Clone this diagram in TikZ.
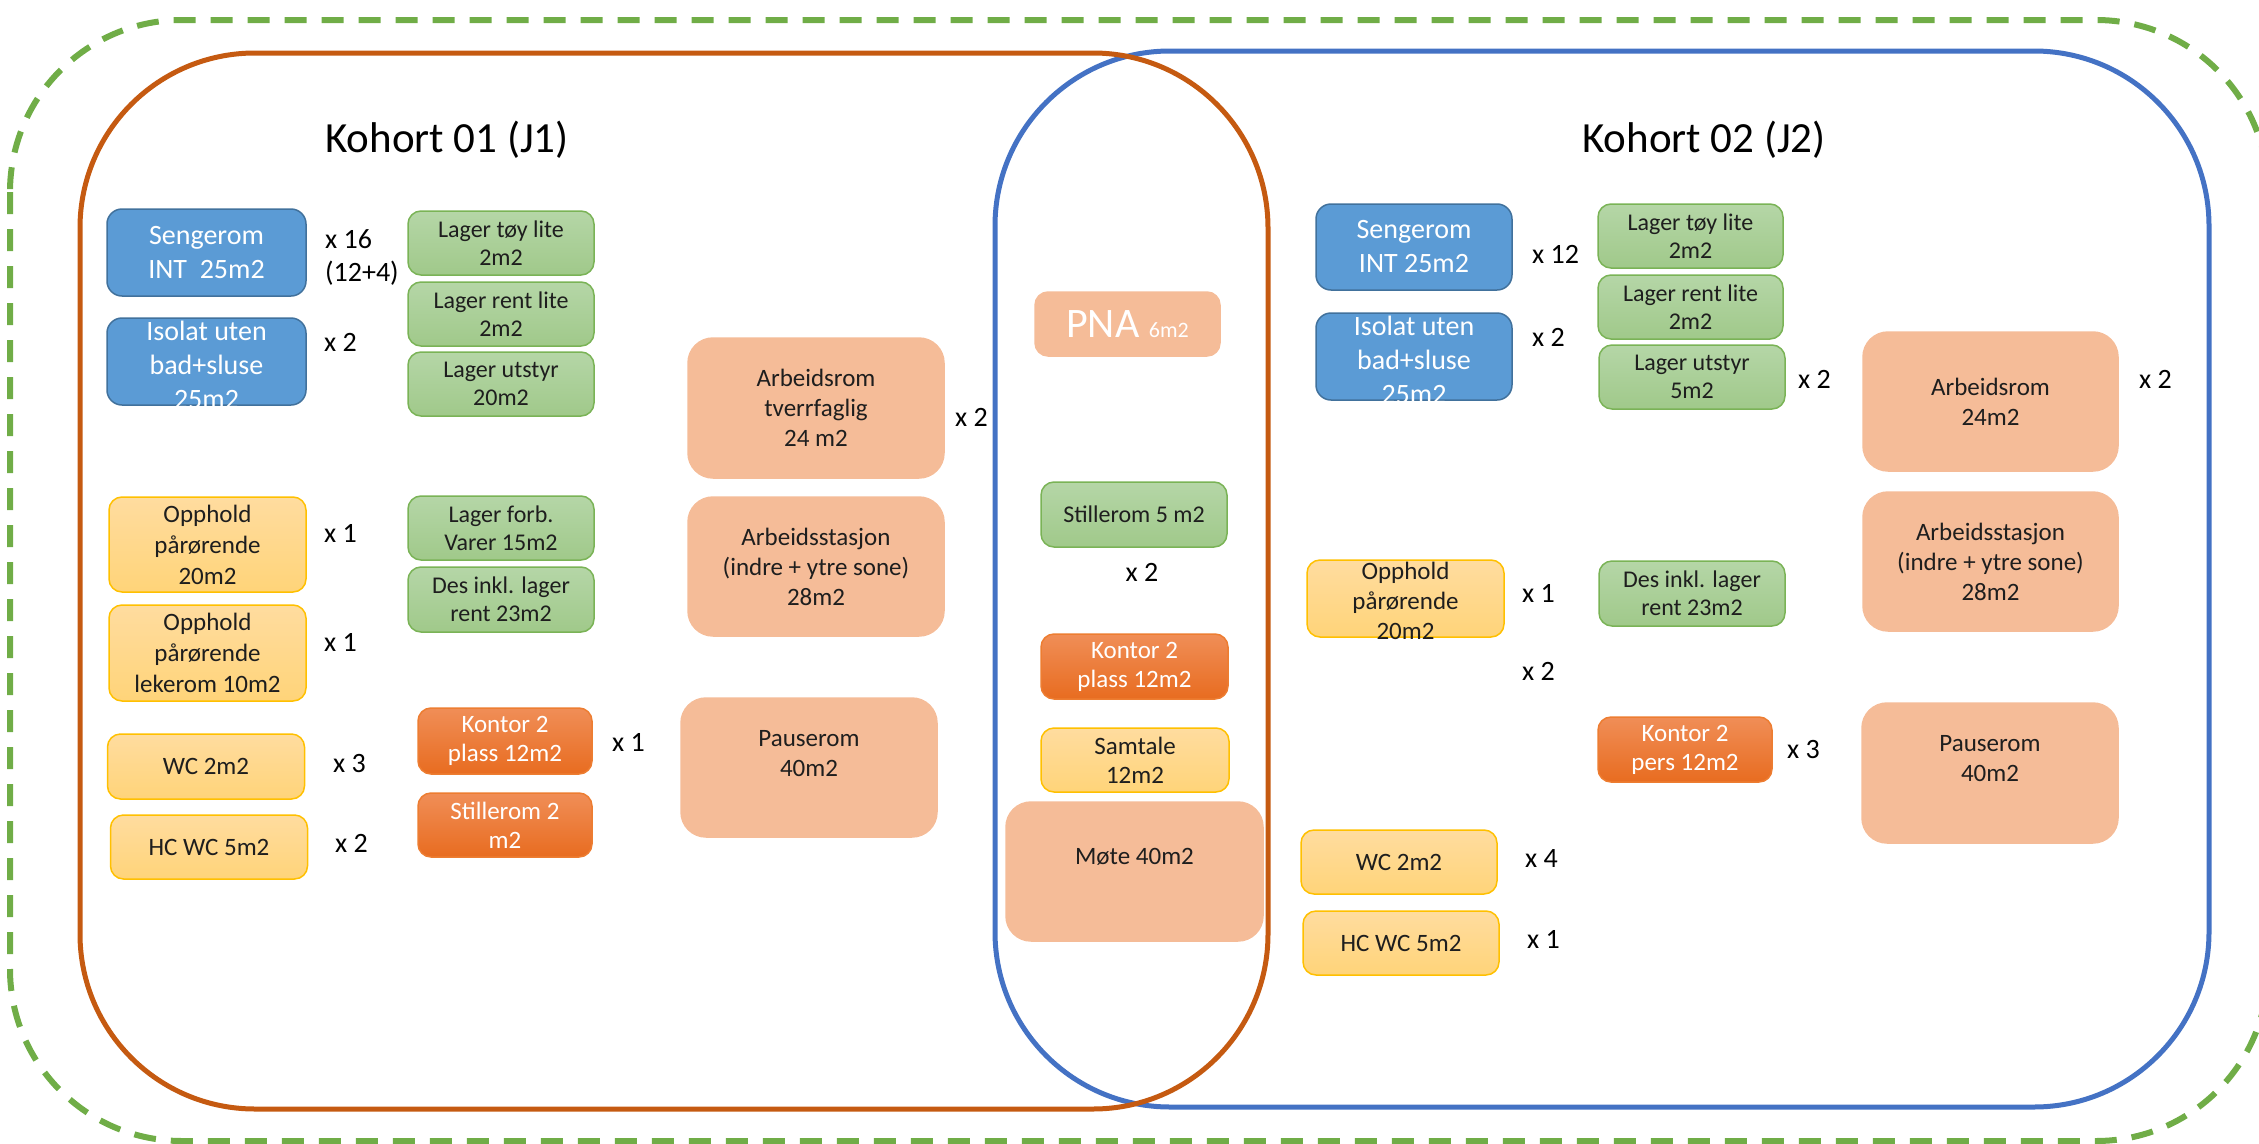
\documentclass[tikz,border=0pt]{standalone}
\usepackage{fontspec}
\setmainfont{Carlito}
\definecolor{dashgreen}{HTML}{70AD47}
\definecolor{kohortA}{HTML}{C55A11}
\definecolor{kohortB}{HTML}{4472C4}
\definecolor{boxblue}{HTML}{5B9BD5}
\definecolor{blueedge}{HTML}{41719C}
\definecolor{greentop}{HTML}{B5D6A7}
\definecolor{greenbot}{HTML}{A0C98A}
\definecolor{greenedge}{HTML}{7AB356}
\definecolor{yeltop}{HTML}{FFDC9F}
\definecolor{yelbot}{HTML}{FFD479}
\definecolor{yeledge}{HTML}{FFC000}
\definecolor{orgtop}{HTML}{F08E57}
\definecolor{orgbot}{HTML}{E86C20}
\definecolor{orgedge}{HTML}{ED7D31}
\definecolor{peach}{HTML}{F5BC98}
\definecolor{darktxt}{HTML}{1E1E1E}
\tikzset{
  rbox/.style={inner sep=0pt, align=center, line width=1.5pt, rounded corners=13pt},
  bluebox/.style={rbox, fill=boxblue, draw=blueedge, text=white, rounded corners=15pt, font=\fontsize{28}{34}\selectfont},
  greenbox/.style={rbox, top color=greentop, bottom color=greenbot, draw=greenedge, text=darktxt, font=\fontsize{24}{28}\selectfont},
  yellowbox/.style={rbox, top color=yeltop, bottom color=yelbot, draw=yeledge, text=darktxt, font=\fontsize{25}{31}\selectfont},
  orangebox/.style={rbox, top color=orgtop, bottom color=orgbot, draw=orgedge, text=white, font=\fontsize{25}{29}\selectfont},
  peachbox/.style={rbox, fill=peach, draw=peach, text=darktxt, rounded corners=25pt, font=\fontsize{25}{30}\selectfont},
  boxtext/.style={inner sep=0pt, align=center},
  mult/.style={anchor=west, inner sep=0pt, text=black, font=\fontsize{28}{34}\selectfont},
  kohorttitle/.style={inner sep=0pt, text=black, font=\fontsize{43}{50}\selectfont}
}
\begin{document}
\begin{tikzpicture}[x=1pt, y=-1pt]
\useasboundingbox (0,0) rectangle (2259,1143);
% outer dashed boundary
\draw[dashgreen, line width=6pt, dash pattern=on 22pt off 15pt, rounded corners=172pt] (10,20) rectangle (2268,1141);
% cohort boundaries
\draw[kohortB, line width=5pt, rounded corners=175pt] (995,51) rectangle (2209,1107);
\draw[kohortA, line width=5pt, rounded corners=175pt] (80,53) rectangle (1268,1109);

% titles
\node[kohorttitle] (t1) at (447,140) {Kohort 01 (J1)};
\node[kohorttitle] (t2) at (1704,140) {Kohort 02 (J2)};

% ---------------- Kohort 01 ----------------
\node[bluebox, minimum width=199, minimum height=87] (sen1) at (206.5,252.5) {Sengerom\\INT\ \ 25m2};
\node[mult] (msen1) at (325,239) {x 16};
\node[mult] (msen1b) at (325,273) {(12+4)};
\node[bluebox, minimum width=199, minimum height=87] (iso1) at (206.5,361.5) {};
\node[boxtext, text=white, font=\fontsize{28}{34}\selectfont] (iso1t) at (206.5,365) {Isolat uten\\bad+sluse\\25m2};
\node[mult] (miso1) at (324,342) {x 2};

\node[greenbox, minimum width=186, minimum height=64] (lt1) at (501,243) {Lager tøy lite\\2m2};
\node[greenbox, minimum width=186, minimum height=64] (lr1) at (501,314) {Lager rent lite\\2m2};
\node[greenbox, minimum width=186, minimum height=64] (lu1) at (501,384) {Lager utstyr\\20m2};
\node[greenbox, minimum width=186, minimum height=64] (lf1) at (501,528) {Lager forb.\\Varer 15m2};
\node[greenbox, minimum width=186, minimum height=65] (di1) at (501,599.5) {Des inkl. lager\\rent 23m2};

\node[yellowbox, minimum width=197, minimum height=95] (op1) at (207.5,544.5) {Opphold\\pårørende\\20m2};
\node[mult] (mop1) at (324,533) {x 1};
\node[yellowbox, minimum width=197, minimum height=96] (opl1) at (207.5,653) {Opphold\\pårørende\\lekerom 10m2};
\node[mult] (mopl1) at (324,642) {x 1};
\node[yellowbox, minimum width=197, minimum height=65] (wc1) at (206,766.5) {WC 2m2};
\node[mult] (mwc1) at (333,764) {x 3};
\node[yellowbox, minimum width=197, minimum height=64] (hc1) at (209,847) {HC WC 5m2};
\node[mult] (mhc1) at (335,843) {x 2};

\node[orangebox, minimum width=174, minimum height=66] (ko1) at (505,741) {Kontor 2\\plass 12m2};
\node[mult] (mko1) at (612,742) {x 1};
\node[orangebox, minimum width=174, minimum height=64] (st1) at (505,825) {Stillerom 2\\m2};

\node[peachbox, minimum width=256, minimum height=140] (ar1) at (816,408) {Arbeidsrom\\tverrfaglig\\24 m2};
\node[mult] (mar1) at (955,417) {x 2};
\node[peachbox, minimum width=256, minimum height=139] (as1) at (816,566.5) {Arbeidsstasjon\\(indre + ytre sone)\\28m2};
\node[peachbox, minimum width=256, minimum height=139] (pa1) at (809,767.5) {};
\node[boxtext, text=darktxt, font=\fontsize{25}{30}\selectfont] (pa1t) at (809,754) {Pauserom\\40m2};

% ---------------- shared centre ----------------
\node[peachbox, rounded corners=13pt, minimum width=185, minimum height=64, text=white] (pna) at (1127.5,324) {\fontsize{42}{46}\selectfont PNA \fontsize{22}{26}\selectfont 6m2};
\node[greenbox, minimum width=186, minimum height=65] (stc) at (1134,514.5) {Stillerom 5 m2};
\node[mult, anchor=center] (mstc) at (1142,572) {x 2};
\node[orangebox, minimum width=187, minimum height=65] (koc) at (1134.5,666.5) {Kontor 2\\plass 12m2};
\node[yellowbox, minimum width=188, minimum height=64, font=\fontsize{25}{29}\selectfont] (sam) at (1135,760) {Samtale\\12m2};
\node[peachbox, minimum width=257, minimum height=139] (mote) at (1134.5,871.5) {};
\node[boxtext, text=darktxt, font=\fontsize{25}{30}\selectfont] (motet) at (1134.5,857) {Møte 40m2};

% ---------------- Kohort 02 ----------------
\node[bluebox, minimum width=196, minimum height=86] (sen2) at (1414,247) {Sengerom\\INT 25m2};
\node[mult] (msen2) at (1532,254) {x 12};
\node[bluebox, minimum width=196, minimum height=87] (iso2) at (1414,356.5) {};
\node[boxtext, text=white, font=\fontsize{28}{34}\selectfont] (iso2t) at (1414,360) {Isolat uten\\bad+sluse\\25m2};
\node[mult] (miso2) at (1532,337) {x 2};

\node[greenbox, minimum width=185, minimum height=64] (lt2) at (1690.5,236) {Lager tøy lite\\2m2};
\node[greenbox, minimum width=185, minimum height=64] (lr2) at (1690.5,307) {Lager rent lite\\2m2};
\node[greenbox, minimum width=186, minimum height=64] (lu2) at (1692,377) {Lager utstyr\\5m2};
\node[mult] (mlu2) at (1798,379) {x 2};
\node[greenbox, minimum width=186, minimum height=65] (di2) at (1692,593.5) {Des inkl. lager\\rent 23m2};

\node[peachbox, minimum width=255, minimum height=139] (ar2) at (1990.5,401.5) {Arbeidsrom\\24m2};
\node[mult] (mar2) at (2139,379) {x 2};
\node[peachbox, minimum width=255, minimum height=139] (as2) at (1990.5,561.5) {Arbeidsstasjon\\(indre + ytre sone)\\28m2};

\node[yellowbox, minimum width=197, minimum height=77] (op2) at (1405.5,598.5) {};
\node[boxtext, text=darktxt, font=\fontsize{25}{30}\selectfont] (op2t) at (1405.5,601) {Opphold\\pårørende\\20m2};
\node[mult] (mop2) at (1522,593) {x 1};
\node[mult] (mx2) at (1522,671) {x 2};

\node[orangebox, minimum width=174, minimum height=65] (ko2) at (1685,749.5) {Kontor 2\\pers 12m2};
\node[mult] (mko2) at (1787,750) {x 3};
\node[peachbox, minimum width=256, minimum height=140] (pa2) at (1990,773) {};
\node[boxtext, text=darktxt, font=\fontsize{25}{30}\selectfont] (pa2t) at (1990,759) {Pauserom\\40m2};

\node[yellowbox, minimum width=196, minimum height=64] (wc2) at (1399,862) {WC 2m2};
\node[mult] (mwc2) at (1525,858) {x 4};
\node[yellowbox, minimum width=196, minimum height=64] (hc2) at (1401,943) {HC WC 5m2};
\node[mult] (mhc2) at (1527,939) {x 1};
\end{tikzpicture}
\end{document}
